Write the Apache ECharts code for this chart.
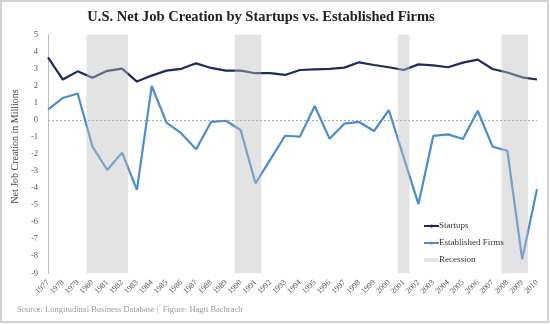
<!DOCTYPE html>
<html>
<head>
<meta charset="utf-8">
<script src="https://cdn.jsdelivr.net/npm/echarts@6/dist/echarts.min.js"></script>
<style>
  html, body { margin: 0; padding: 0; background: #ffffff; }
  #chart { width: 550px; height: 324px; }
</style>
</head>
<body>
<div id="chart"></div>
<script>
// Net job creation (millions) by year
const years = [1977, 1978, 1979, 1980, 1981, 1982, 1983, 1984, 1985, 1986,
               1987, 1988, 1989, 1990, 1991, 1992, 1993, 1994, 1995, 1996,
               1997, 1998, 1999, 2000, 2001, 2002, 2003, 2004, 2005, 2006,
               2007, 2008, 2009, 2010];
const startups = [3.67, 2.37, 2.85, 2.48, 2.88, 3.01, 2.25, 2.60, 2.89, 3.00,
                  3.32, 3.05, 2.89, 2.89, 2.74, 2.74, 2.64, 2.93, 2.97, 3.00,
                  3.07, 3.38, 3.22, 3.09, 2.93, 3.26, 3.20, 3.09, 3.36, 3.54,
                  2.99, 2.78, 2.50, 2.37];
const established = [0.61, 1.29, 1.55, -1.56, -2.94, -1.92, -4.11, 1.99, -0.16, -0.79,
                     -1.72, -0.12, -0.05, -0.59, -3.72, -2.33, -0.93, -0.98, 0.82, -1.10,
                     -0.22, -0.12, -0.65, 0.58, -2.18, -4.94, -0.94, -0.85, -1.12, 0.54,
                     -1.57, -1.81, -8.18, -4.06];
// Recession periods, first and last year
const recessions = [[1980, 1982], [1990, 1991], [2001, 2001], [2008, 2009]];
const yTicks = { min: -9, max: 5, step: 1 };

const FONT = "'Liberation Serif', 'DejaVu Serif', serif";
const NAVY = '#1b2b5b';
const BLUE = '#4b8dcd';
const BAND = 'rgba(188,188,188,0.42)';
const BAND_PAD = 0.4; // band extends a little past the end years

const chart = echarts.init(document.getElementById('chart'), null, { renderer: 'canvas' });

chart.setOption({
  animation: false,
  backgroundColor: '#ffffff',
  textStyle: { fontFamily: FONT },
  grid: { left: 48, right: 13, top: 34.7, bottom: 50.7, containLabel: false },
  graphic: [
    {
      type: 'rect', silent: true, z: 100,
      shape: { x: 1, y: 1, width: 547, height: 321 },
      style: { fill: 'none', stroke: '#d2d2d2', lineWidth: 2 }
    },
    {
      type: 'text', x: 261, y: 17,
      style: {
        text: 'U.S. Net Job Creation by Startups vs. Established Firms',
        font: "bold 14.5px " + FONT, fill: '#222222',
        textAlign: 'center', textVerticalAlign: 'middle'
      }
    },
    {
      type: 'text', x: 17, y: 310,
      style: {
        text: 'Source: Longitudinal Business Database |  Figure: Hagit Bachrach',
        font: "8.5px " + FONT, fill: '#9a9a9a',
        textAlign: 'left', textVerticalAlign: 'middle'
      }
    }
  ],
  legend: {
    orient: 'vertical',
    left: 418, top: 215.5,
    itemWidth: 15, itemHeight: 4, itemGap: 6,
    textStyle: { fontFamily: FONT, fontSize: 9, color: '#333333', lineHeight: 11, padding: [0, 0, 0, -5] },
    data: [
      { name: 'Startups' },
      { name: 'Established Firms' },
      { name: 'Recession', icon: 'rect', itemStyle: { color: '#e3e3e3' } }
    ]
  },
  xAxis: {
    type: 'value',
    min: years[0], max: years[years.length - 1], interval: 1,
    axisLine: { show: false, onZero: false },
    axisTick: { show: false },
    splitLine: { show: false },
    axisLabel: {
      rotate: 45, margin: 8, fontSize: 8, color: '#555555', fontFamily: FONT,
      formatter: v => String(v)
    }
  },
  yAxis: {
    type: 'value',
    min: yTicks.min, max: yTicks.max, interval: yTicks.step,
    name: 'Net Job Creation in Millions',
    nameLocation: 'middle', nameRotate: 90, nameGap: 22,
    nameTextStyle: { fontFamily: FONT, fontSize: 10, color: '#444444', padding: [0, 0, 0, 15] },
    axisLine: { show: true, lineStyle: { color: '#bdbdbd', width: 1 } },
    axisTick: { show: false },
    splitLine: { show: false },
    axisLabel: { margin: 10, fontSize: 8.5, color: '#555555', fontFamily: FONT }
  },
  series: [
    {
      name: 'Startups', type: 'line',
      data: years.map((y, i) => [y, startups[i]]),
      symbol: 'none', showSymbol: false,
      lineStyle: { color: NAVY, width: 2.2 },
      itemStyle: { color: NAVY },
      z: 2
    },
    {
      name: 'Established Firms', type: 'line',
      data: years.map((y, i) => [y, established[i]]),
      symbol: 'none', showSymbol: false,
      lineStyle: { color: BLUE, width: 2.2 },
      itemStyle: { color: BLUE },
      markLine: {
        silent: true, symbol: ['none', 'none'], z: 1,
        label: { show: false },
        lineStyle: { color: '#aaaaaa', type: [2, 2], width: 1 },
        data: [{ yAxis: 0 }]
      },
      z: 2
    },
    {
      name: 'Recession', type: 'custom',
      data: recessions,
      itemStyle: { color: BAND },
      z: 3,
      silent: true,
      encode: { x: [0, 1] },
      renderItem: function (params, api) {
        const p0 = api.coord([api.value(0) - BAND_PAD, yTicks.max]);
        const p1 = api.coord([api.value(1) + BAND_PAD, yTicks.min]);
        return {
          type: 'rect',
          shape: { x: p0[0], y: p0[1], width: p1[0] - p0[0], height: p1[1] - p0[1] },
          style: { fill: BAND }
        };
      }
    }
  ]
});
</script>
</body>
</html>
